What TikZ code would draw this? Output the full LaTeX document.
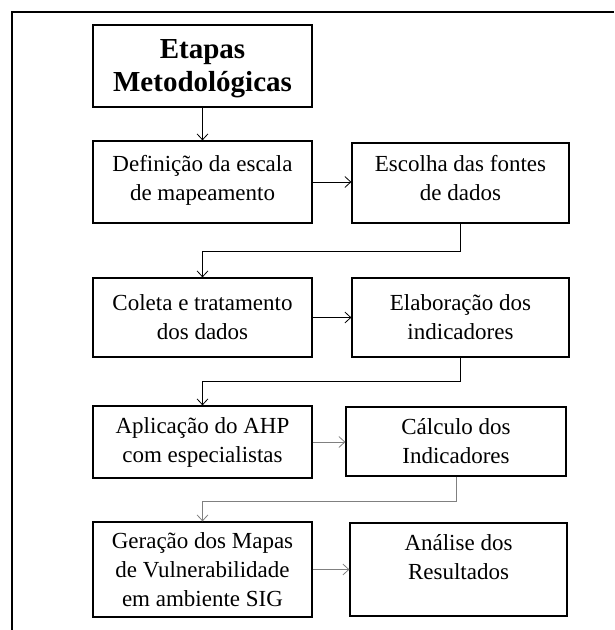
\documentclass[tikz,border=0pt]{standalone}
\usepackage{fontspec}
\setmainfont{Liberation Serif}
\usetikzlibrary{arrows.meta}
\begin{document}
\begin{tikzpicture}[x=1pt,y=-1pt,
    caixa/.style={draw,line width=1.2pt,align=center,inner sep=0pt,font=\fontsize{23}{29}\selectfont},
    seta/.style={-{Straight Barb[length=6pt,width=11pt]},line width=0.8pt}]
        \useasboundingbox (0,0) rectangle (614,630);
        \draw[line width=1.2pt](12,630)--(12,12)--(614,12);
        % caixas
        \node[caixa,minimum width=219pt,minimum height=82pt,text depth=-4pt,font=\bfseries\fontsize{29}{33}\selectfont](titulo) at (202.5,66){Etapas\\Metodológicas};
        \node[caixa,minimum width=219pt,minimum height=82pt,text depth=8pt](definicao) at (202.5,182){Definição da escala\\de mapeamento};
        \node[caixa,minimum width=217pt,minimum height=80pt,text depth=10pt](escolha) at (460.5,183){Escolha das fontes\\de dados};
        \node[caixa,minimum width=219pt,minimum height=79pt](coleta) at (202.5,317.5){Coleta e tratamento\\dos dados};
        \node[caixa,minimum width=217pt,minimum height=79pt](elaboracao) at (460.5,317.5){Elaboração dos\\indicadores};
        \node[caixa,minimum width=219pt,minimum height=72pt](aplicacao) at (202.5,442){Aplicação do AHP\\com especialistas};
        \node[caixa,minimum width=220pt,minimum height=69pt](calculo) at (456,441.5){Cálculo dos\\Indicadores};
        \node[caixa,minimum width=219pt,minimum height=95pt](geracao) at (202.5,569.5){Geração dos Mapas\\de Vulnerabilidade\\em ambiente SIG};
        \node[caixa,minimum width=217pt,minimum height=93pt,text depth=26pt](analise) at (458.5,569.5){Análise dos\\Resultados};
        % setas
        \draw[seta](titulo)--(definicao);
        \foreach \a/\b/\c in {definicao/escolha/black, coleta/elaboracao/black,
            aplicacao/calculo/gray, geracao/analise/gray}{
            \draw[seta,\c](\a.east)--(\a.east-|\b.west);
        }
        \foreach \a/\b/\d/\c in {escolha/coleta/28/black, elaboracao/aplicacao/24/black,
            calculo/geracao/25/gray}{
            \draw[seta,\c](\a.south)--++(0,\d)-|(\b.north);
        }
    \end{tikzpicture}
\end{document}
